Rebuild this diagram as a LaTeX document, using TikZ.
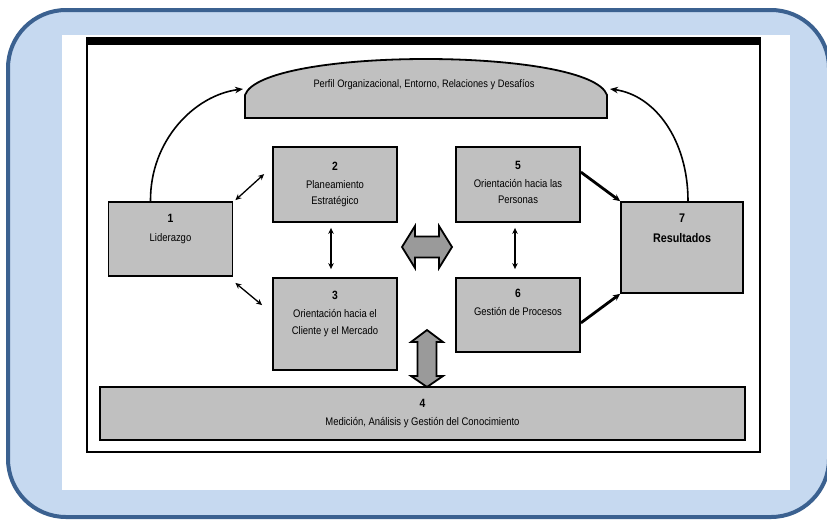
\documentclass[tikz,border=0pt]{standalone}
\usepackage{fontspec}
\setmainfont{Liberation Sans}[FakeStretch=0.86]
\usetikzlibrary{arrows.meta}
\definecolor{frameblue}{HTML}{3B6190}
\definecolor{paleblue}{HTML}{C6D9F0}
\definecolor{boxgray}{HTML}{C0C0C0}
\definecolor{fatgray}{HTML}{9A9A9A}
\newcommand\critnum[1]{{\fontsize{12}{12}\selectfont\bfseries #1}}
\begin{document}
\begin{tikzpicture}[x=1pt,y=-1pt,
  box/.style={draw=black,line width=1.8pt,fill=boxgray,inner sep=0pt},
  lbl/.style={font=\fontsize{11}{18}\selectfont,align=center,inner sep=0pt,anchor=north},
  link/.style={{Stealth[length=6pt,width=5.5pt]}-{Stealth[length=6pt,width=5.5pt]},line width=1.3pt},
  push/.style={-{Stealth[length=7pt,width=6.5pt]},line width=2.8pt},
  loop/.style={-{Stealth[length=8pt,width=6.5pt]},line width=1.6pt},
  fat/.style={draw=black,line width=1.8pt,fill=fatgray,line join=miter}]
\useasboundingbox (0,0) rectangle (827,520);
\fill[white] (0,0) rectangle (827,520);
\begin{scope}
\clip (0,0) rectangle (827,520);
% outer rounded panel
\draw[frameblue,line width=4pt,fill=paleblue,rounded corners=58pt] (8,10) rectangle (829,517);
\end{scope}
% white sheet and diagram frame
\fill[white] (62,35) rectangle (790,490);
\fill[black] (87,37) rectangle (760,45);
\draw[black,line width=1.2pt] (87,37) -- (87,452) -- (760,452) -- (760,37);

% context arch
\draw[box] (245,118) -- (245,95) .. controls (262,47) and (590,47) .. (607,95) -- (607,118) -- cycle;
\node[lbl,anchor=center,font=\fontsize{10.8}{12}\selectfont] (ctx) at (424,85) {Perfil Organizacional, Entorno, Relaciones y Desafíos};
\coordinate (archL) at (243,89);
\coordinate (archR) at (610,89);

% criteria boxes
\node[box,minimum width=124pt,minimum height=74pt] (b1) at (170.5,239) {};
\node[box,minimum width=124pt,minimum height=75pt] (b2) at (335,184.5) {};
\node[box,minimum width=124pt,minimum height=92pt] (b3) at (335,324) {};
\node[box,minimum width=124pt,minimum height=75pt] (b5) at (518,184.5) {};
\node[box,minimum width=124pt,minimum height=74pt] (b6) at (518,315) {};
\node[box,minimum width=122pt,minimum height=91pt] (b7) at (682,247.5) {};
\node[box,minimum width=645pt,minimum height=53pt] (b4) at (422.5,413.5) {};

\node[lbl] (t1) at (170.5,214) {\critnum{1}\\[1pt]Liderazgo};
\node[lbl] (t2) at (335,162) {\critnum{2}\\Planeamiento\\[-2pt]Estratégico};
\node[lbl] (t3) at (335,291) {\critnum{3}\\Orientación hacia el\\[-1pt]Cliente y el Mercado};
\node[lbl] (t5) at (518,161) {\critnum{5}\\Orientación hacia las\\[-2pt]Personas};
\node[lbl] (t6) at (518,289) {\critnum{6}\\Gestión de Procesos};
\node[lbl,font=\fontsize{12.5}{19.5}\selectfont\bfseries] (t7) at (682,214) {7\\Resultados};
\node[lbl] (t4) at (422.5,399) {\critnum{4}\\Medición, Análisis y Gestión del Conocimiento};

% links between criteria
\draw[link] ([xshift=2pt,yshift=1pt]b1.north east) -- ([xshift=-8pt,yshift=-28pt]b2.north west);
\draw[link] ([xshift=2pt,yshift=-6pt]b1.south east) -- ([xshift=-10pt,yshift=-28pt]b3.north west);
\draw[link] ([xshift=-4pt,yshift=-5pt]b2.south) -- ([xshift=-4pt,yshift=8pt]b3.north);
\draw[link] ([xshift=-3pt,yshift=-5pt]b5.south) -- ([xshift=-3pt,yshift=8pt]b6.north);
\draw[push] ([yshift=-26pt]b5.north east) -- (b7.north west);
\draw[push] ([yshift=30pt]b6.south east) -- (b7.south west);

% feedback loops to the context arch
\draw[loop] ([xshift=-20pt]b1.north) .. controls (150,140) and (195,95) .. (archL);
\draw[loop] ([xshift=6pt]b7.north) .. controls (688,140) and (655,95) .. (archR);

% broad arrows
\draw[fat] (402,247) -- (415,226) -- (415,236.5) -- (439,236.5) -- (439,226) -- (452,247)
  -- (439,268) -- (439,257.5) -- (415,257.5) -- (415,268) -- cycle;
\draw[fat] (427,330) -- (443,342) -- (436.5,342) -- (436.5,376) -- (443,376) -- (427,387)
  -- (411,376) -- (417.5,376) -- (417.5,342) -- (411,342) -- cycle;
\end{tikzpicture}
\end{document}
